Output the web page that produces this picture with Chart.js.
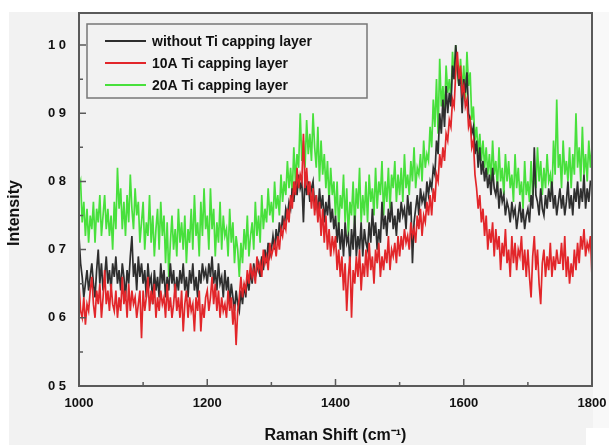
<!DOCTYPE html>
<html><head><meta charset="utf-8">
<script src="https://cdn.jsdelivr.net/npm/chart.js@4.4.1/dist/chart.umd.min.js"></script>
<style>html,body{margin:0;padding:0;background:#fff}#wrap{width:609px;height:445px;position:relative}canvas{display:block}</style>
</head><body><div id="wrap"><canvas id="c" width="609" height="445"></canvas></div>
<script>
const ramanShift = [
1000,1002.5,1005,1007.5,1010,1012.5,1015,1017.5,1020,1022.5,1025,1027.5,1030,1032.5,1035,1037.5,1040,1042.5,1045,1047.5,
1050,1052.5,1055,1057.5,1060,1062.5,1065,1067.5,1070,1072.5,1075,1077.5,1080,1082.5,1085,1087.5,1090,1092.5,1095,1097.5,
1100,1102.5,1105,1107.5,1110,1112.5,1115,1117.5,1120,1122.5,1125,1127.5,1130,1132.5,1135,1137.5,1140,1142.5,1145,1147.5,
1150,1152.5,1155,1157.5,1160,1162.5,1165,1167.5,1170,1172.5,1175,1177.5,1180,1182.5,1185,1187.5,1190,1192.5,1195,1197.5,
1200,1202.5,1205,1207.5,1210,1212.5,1215,1217.5,1220,1222.5,1225,1227.5,1230,1232.5,1235,1237.5,1240,1242.5,1245,1247.5,
1250,1252.5,1255,1257.5,1260,1262.5,1265,1267.5,1270,1272.5,1275,1277.5,1280,1282.5,1285,1287.5,1290,1292.5,1295,1297.5,
1300,1302.5,1305,1307.5,1310,1312.5,1315,1317.5,1320,1322.5,1325,1327.5,1330,1332.5,1335,1337.5,1340,1342.5,1345,1347.5,
1350,1352.5,1355,1357.5,1360,1362.5,1365,1367.5,1370,1372.5,1375,1377.5,1380,1382.5,1385,1387.5,1390,1392.5,1395,1397.5,
1400,1402.5,1405,1407.5,1410,1412.5,1415,1417.5,1420,1422.5,1425,1427.5,1430,1432.5,1435,1437.5,1440,1442.5,1445,1447.5,
1450,1452.5,1455,1457.5,1460,1462.5,1465,1467.5,1470,1472.5,1475,1477.5,1480,1482.5,1485,1487.5,1490,1492.5,1495,1497.5,
1500,1502.5,1505,1507.5,1510,1512.5,1515,1517.5,1520,1522.5,1525,1527.5,1530,1532.5,1535,1537.5,1540,1542.5,1545,1547.5,
1550,1552.5,1555,1557.5,1560,1562.5,1565,1567.5,1570,1572.5,1575,1577.5,1580,1582.5,1585,1587.5,1590,1592.5,1595,1597.5,
1600,1602.5,1605,1607.5,1610,1612.5,1615,1617.5,1620,1622.5,1625,1627.5,1630,1632.5,1635,1637.5,1640,1642.5,1645,1647.5,
1650,1652.5,1655,1657.5,1660,1662.5,1665,1667.5,1670,1672.5,1675,1677.5,1680,1682.5,1685,1687.5,1690,1692.5,1695,1697.5,
1700,1702.5,1705,1707.5,1710,1712.5,1715,1717.5,1720,1722.5,1725,1727.5,1730,1732.5,1735,1737.5,1740,1742.5,1745,1747.5,
1750,1752.5,1755,1757.5,1760,1762.5,1765,1767.5,1770,1772.5,1775,1777.5,1780,1782.5,1785,1787.5,1790,1792.5,1795,1797.5,
1800];
const withoutTi = [
0.72,0.68,0.66,0.63,0.65,0.67,0.64,0.66,0.68,0.65,0.63,0.67,0.70,0.65,0.68,0.64,0.66,0.69,0.65,0.67,
0.64,0.68,0.66,0.69,0.65,0.67,0.64,0.68,0.66,0.63,0.67,0.65,0.69,0.72,0.66,0.68,0.64,0.69,0.66,0.68,
0.65,0.67,0.63,0.68,0.65,0.66,0.62,0.67,0.64,0.66,0.63,0.68,0.65,0.67,0.63,0.66,0.64,0.68,0.65,0.67,
0.63,0.66,0.64,0.67,0.65,0.68,0.64,0.66,0.63,0.67,0.65,0.68,0.64,0.66,0.63,0.67,0.65,0.68,0.66,0.67,
0.65,0.68,0.66,0.69,0.65,0.67,0.64,0.68,0.65,0.66,0.63,0.67,0.64,0.66,0.62,0.65,0.63,0.61,0.64,0.62,
0.61,0.64,0.62,0.65,0.63,0.66,0.64,0.67,0.65,0.68,0.66,0.67,0.68,0.66,0.69,0.67,0.70,0.68,0.71,0.69,
0.70,0.72,0.70,0.73,0.71,0.74,0.72,0.75,0.73,0.76,0.75,0.77,0.76,0.79,0.77,0.80,0.78,0.81,0.79,0.80,
0.74,0.81,0.78,0.80,0.77,0.79,0.80,0.76,0.78,0.75,0.79,0.76,0.78,0.74,0.77,0.75,0.78,0.74,0.76,0.73,
0.75,0.71,0.74,0.70,0.73,0.69,0.74,0.71,0.72,0.68,0.73,0.70,0.75,0.69,0.72,0.70,0.74,0.69,0.73,0.71,
0.70,0.74,0.71,0.76,0.72,0.74,0.70,0.73,0.71,0.77,0.73,0.75,0.72,0.76,0.74,0.77,0.73,0.75,0.72,0.76,
0.74,0.77,0.75,0.76,0.73,0.78,0.75,0.77,0.68,0.74,0.76,0.78,0.75,0.79,0.77,0.78,0.76,0.80,0.78,0.80,
0.79,0.82,0.81,0.86,0.84,0.90,0.87,0.92,0.88,0.94,0.90,0.93,0.91,0.97,0.95,1.00,0.97,0.94,0.96,0.90,
0.95,0.93,0.96,0.90,0.89,0.87,0.88,0.84,0.86,0.82,0.85,0.81,0.83,0.80,0.82,0.79,0.81,0.78,0.82,0.79,
0.78,0.80,0.76,0.79,0.77,0.78,0.75,0.77,0.76,0.74,0.77,0.75,0.76,0.73,0.75,0.77,0.74,0.76,0.73,0.75,
0.76,0.74,0.78,0.76,0.85,0.78,0.77,0.75,0.79,0.76,0.75,0.78,0.76,0.79,0.77,0.80,0.76,0.78,0.75,0.77,
0.79,0.76,0.78,0.75,0.77,0.80,0.76,0.78,0.75,0.79,0.77,0.80,0.76,0.79,0.77,0.81,0.76,0.79,0.77,0.80,
0.80];
const ti10A = [
0.65,0.61,0.60,0.63,0.59,0.62,0.61,0.64,0.66,0.62,0.60,0.64,0.62,0.65,0.60,0.63,0.67,0.62,0.64,0.61,
0.65,0.62,0.61,0.64,0.60,0.63,0.61,0.66,0.62,0.64,0.60,0.65,0.61,0.64,0.62,0.63,0.60,0.62,0.64,0.57,
0.64,0.61,0.63,0.66,0.61,0.64,0.62,0.65,0.60,0.63,0.61,0.64,0.62,0.63,0.60,0.65,0.61,0.63,0.60,0.62,
0.65,0.61,0.63,0.60,0.64,0.58,0.62,0.64,0.60,0.63,0.61,0.62,0.58,0.63,0.61,0.64,0.58,0.62,0.60,0.63,
0.64,0.61,0.63,0.66,0.62,0.65,0.61,0.64,0.60,0.63,0.61,0.62,0.60,0.64,0.61,0.63,0.59,0.62,0.56,0.61,
0.63,0.66,0.63,0.65,0.64,0.67,0.65,0.68,0.66,0.67,0.65,0.69,0.67,0.68,0.66,0.70,0.68,0.69,0.67,0.71,
0.69,0.70,0.71,0.69,0.72,0.70,0.73,0.72,0.74,0.73,0.76,0.74,0.78,0.76,0.80,0.78,0.82,0.79,0.81,0.80,
0.87,0.79,0.82,0.78,0.80,0.76,0.79,0.75,0.78,0.74,0.77,0.72,0.76,0.71,0.75,0.70,0.73,0.69,0.72,0.70,
0.72,0.67,0.70,0.66,0.69,0.64,0.68,0.61,0.66,0.69,0.60,0.67,0.65,0.69,0.66,0.70,0.64,0.68,0.66,0.70,
0.66,0.71,0.67,0.69,0.65,0.70,0.68,0.71,0.66,0.69,0.67,0.70,0.68,0.72,0.67,0.70,0.69,0.71,0.68,0.72,
0.69,0.72,0.70,0.73,0.71,0.72,0.70,0.74,0.72,0.73,0.71,0.75,0.73,0.76,0.72,0.75,0.74,0.77,0.75,0.78,
0.75,0.79,0.77,0.81,0.80,0.84,0.82,0.85,0.83,0.87,0.86,0.89,0.88,0.92,0.91,0.96,0.99,0.95,0.97,0.93,
0.94,0.91,0.92,0.88,0.89,0.85,0.86,0.81,0.79,0.76,0.78,0.74,0.76,0.72,0.75,0.70,0.73,0.71,0.74,0.69,
0.73,0.70,0.72,0.67,0.71,0.69,0.73,0.68,0.70,0.66,0.72,0.68,0.71,0.67,0.70,0.69,0.72,0.67,0.70,0.66,
0.70,0.66,0.63,0.69,0.72,0.67,0.70,0.65,0.62,0.68,0.70,0.66,0.69,0.67,0.71,0.66,0.69,0.67,0.70,0.68,
0.68,0.71,0.67,0.72,0.66,0.69,0.65,0.68,0.66,0.70,0.67,0.71,0.68,0.72,0.70,0.73,0.69,0.71,0.70,0.72,
0.66];
const ti20A = [
0.79,0.80,0.74,0.77,0.72,0.76,0.71,0.75,0.73,0.77,0.71,0.76,0.74,0.78,0.72,0.75,0.78,0.73,0.76,0.72,
0.75,0.70,0.77,0.73,0.82,0.76,0.79,0.73,0.77,0.72,0.78,0.74,0.81,0.76,0.73,0.79,0.75,0.77,0.71,0.74,
0.77,0.70,0.74,0.72,0.78,0.71,0.75,0.69,0.73,0.76,0.70,0.77,0.72,0.75,0.68,0.74,0.66,0.71,0.75,0.70,
0.73,0.69,0.76,0.71,0.74,0.70,0.75,0.68,0.73,0.71,0.76,0.70,0.78,0.72,0.74,0.69,0.77,0.72,0.79,0.73,
0.75,0.70,0.79,0.73,0.76,0.69,0.74,0.71,0.77,0.70,0.75,0.72,0.73,0.69,0.76,0.71,0.74,0.68,0.72,0.70,
0.66,0.71,0.68,0.73,0.70,0.75,0.69,0.72,0.74,0.70,0.77,0.72,0.75,0.71,0.78,0.73,0.76,0.74,0.79,0.75,
0.77,0.74,0.80,0.76,0.78,0.75,0.81,0.77,0.80,0.78,0.83,0.79,0.82,0.78,0.85,0.80,0.84,0.82,0.90,0.83,
0.86,0.82,0.89,0.84,0.87,0.83,0.90,0.85,0.82,0.88,0.80,0.86,0.81,0.84,0.79,0.83,0.77,0.82,0.78,0.80,
0.75,0.80,0.73,0.78,0.76,0.81,0.74,0.79,0.72,0.77,0.75,0.80,0.73,0.79,0.76,0.82,0.74,0.78,0.75,0.80,
0.74,0.81,0.77,0.79,0.75,0.82,0.76,0.80,0.78,0.83,0.75,0.80,0.77,0.82,0.76,0.81,0.79,0.83,0.77,0.81,
0.78,0.82,0.77,0.84,0.79,0.81,0.78,0.83,0.80,0.85,0.79,0.82,0.81,0.84,0.80,0.86,0.82,0.84,0.83,0.88,
0.85,0.92,0.88,0.95,0.87,0.98,0.91,0.94,0.90,0.97,0.93,0.95,0.92,0.99,0.95,1.00,0.96,0.94,0.98,0.93,
0.97,0.92,0.99,0.94,0.96,0.89,0.91,0.86,0.88,0.84,0.87,0.83,0.86,0.82,0.85,0.81,0.84,0.80,0.86,0.81,
0.83,0.79,0.85,0.80,0.82,0.78,0.84,0.80,0.83,0.79,0.81,0.77,0.84,0.79,0.82,0.78,0.80,0.76,0.83,0.78,
0.80,0.77,0.83,0.78,0.81,0.79,0.85,0.80,0.83,0.78,0.82,0.79,0.84,0.80,0.81,0.78,0.86,0.81,0.92,0.82,
0.84,0.79,0.86,0.81,0.83,0.80,0.85,0.79,0.84,0.81,0.90,0.82,0.85,0.80,0.88,0.81,0.84,0.80,0.86,0.82,
0.85];
const seriesLabels = ['without Ti capping layer', '10A Ti capping layer', '20A Ti capping layer'];
const xTickValues = [1000, 1200, 1400, 1600, 1800];
const xTickLabels = ['1000', '1200', '1400', '1600', '1800'];
const yTickValues = [0.5, 0.6, 0.7, 0.8, 0.9, 1.0];
const yTickLabels = ['0 5', '0 6', '0 7', '0 8', '0 9', '1 0'];
const yAxisTitle = 'Intensity';
const xAxisTitle = 'Raman Shift (cm⁻¹)';

const colors = ['#2e2e2e', '#e2262a', '#48e03c'];
const FONT = "'Liberation Sans', Arial, sans-serif";

function pts(arr) { return ramanShift.map((x, i) => ({x: x, y: arr[i]})); }

const bgPlugin = {
  id: 'bg',
  beforeDraw(chart) {
    const c = chart.ctx;
    c.save();
    c.fillStyle = '#ffffff';
    c.fillRect(0, 0, chart.width, chart.height);
    c.fillStyle = '#f2f2f2';
    c.fillRect(9, 12, 584, 433);
    c.fillStyle = '#f8f8f8';
    c.fillRect(593, 12, 16, 416);
    c.fillStyle = '#ffffff';
    c.fillRect(586, 428, 23, 17);
    c.restore();
  }
};

const framePlugin = {
  id: 'frame',
  afterDatasetsDraw(chart) {
    const c = chart.ctx, a = chart.chartArea;
    const xs = chart.scales.x, ys = chart.scales.y;
    c.save();
    c.strokeStyle = '#5a5a5a';
    c.lineWidth = 2;
    c.strokeRect(a.left, a.top, a.right - a.left, a.bottom - a.top);
    c.lineWidth = 1.5;
    c.beginPath();
    xTickValues.forEach((v, i) => {
      const px = xs.getPixelForValue(v);
      c.moveTo(px, a.bottom); c.lineTo(px, a.bottom - 7);
      if (i < xTickValues.length - 1) {
        const m = xs.getPixelForValue((v + xTickValues[i + 1]) / 2);
        c.moveTo(m, a.bottom); c.lineTo(m, a.bottom - 4);
      }
    });
    yTickValues.forEach((v, i) => {
      const py = ys.getPixelForValue(v);
      c.moveTo(a.left, py); c.lineTo(a.left + 7, py);
      if (i < yTickValues.length - 1) {
        const m = ys.getPixelForValue((v + yTickValues[i + 1]) / 2);
        c.moveTo(a.left, m); c.lineTo(a.left + 4, m);
      }
    });
    c.stroke();
    c.restore();
  }
};

const legendPlugin = {
  id: 'boxLegend',
  afterDraw(chart) {
    const c = chart.ctx;
    c.save();
    c.strokeStyle = '#777777';
    c.lineWidth = 1.5;
    c.strokeRect(87, 24, 280, 74);
    const rows = [41, 63, 85];
    seriesLabels.forEach((lab, i) => {
      c.strokeStyle = colors[i];
      c.lineWidth = 2;
      c.beginPath(); c.moveTo(105, rows[i]); c.lineTo(146, rows[i]); c.stroke();
      c.fillStyle = '#111111';
      c.font = 'bold 14px ' + FONT;
      c.textBaseline = 'middle';
      c.textAlign = 'left';
      c.fillText(lab, 152, rows[i] + 1);
    });
    // y-axis title, placed slightly below the plot centre as in the reference
    c.translate(15, 213);
    c.rotate(-Math.PI / 2);
    c.font = 'bold 16px ' + FONT;
    c.textAlign = 'center';
    c.textBaseline = 'middle';
    c.fillStyle = '#111111';
    c.fillText(yAxisTitle, 0, 0);
    c.restore();
  }
};

new Chart(document.getElementById('c'), {
  type: 'line',
  data: {
    datasets: [
      {label: seriesLabels[0], data: pts(withoutTi), borderColor: colors[0], order: 2},
      {label: seriesLabels[1], data: pts(ti10A), borderColor: colors[1], order: 1},
      {label: seriesLabels[2], data: pts(ti20A), borderColor: colors[2], order: 3}
    ]
  },
  options: {
    responsive: false,
    animation: false,
    devicePixelRatio: 1,
    elements: {
      line: {borderWidth: 1.7, tension: 0, fill: false},
      point: {radius: 0, hoverRadius: 0}
    },
    layout: {padding: {left: 0, top: 13, right: 17, bottom: 0}},
    plugins: {legend: {display: false}, tooltip: {enabled: false}},
    scales: {
      x: {
        type: 'linear', min: 1000, max: 1800,
        afterFit(s) { s.height = 59; s.paddingLeft = 0; s.paddingRight = 0; },
        afterBuildTicks(s) { s.ticks = xTickValues.map(v => ({value: v})); },
        grid: {display: false, drawTicks: false},
        border: {display: false},
        ticks: {
          padding: 10, color: '#111', maxRotation: 0, autoSkip: false,
          font: {family: FONT, size: 13, weight: 'bold'},
          callback: (v, i) => xTickLabels[i]
        },
        title: {display: true, text: xAxisTitle, color: '#111',
          font: {family: FONT, size: 16, weight: 'bold'}, padding: {top: 0, bottom: 0}}
      },
      y: {
        type: 'linear', min: 0.5, max: 1.047,
        afterFit(s) { s.width = 79; s.paddingTop = 0; s.paddingBottom = 0; },
        afterBuildTicks(s) { s.ticks = yTickValues.map(v => ({value: v})); },
        grid: {display: false, drawTicks: false},
        border: {display: false},
        ticks: {
          padding: 13, color: '#111', autoSkip: false,
          font: {family: FONT, size: 13, weight: 'bold'},
          callback: (v, i) => yTickLabels[i]
        },
        title: {display: false}
      }
    }
  },
  plugins: [bgPlugin, framePlugin, legendPlugin]
});
</script></body></html>
